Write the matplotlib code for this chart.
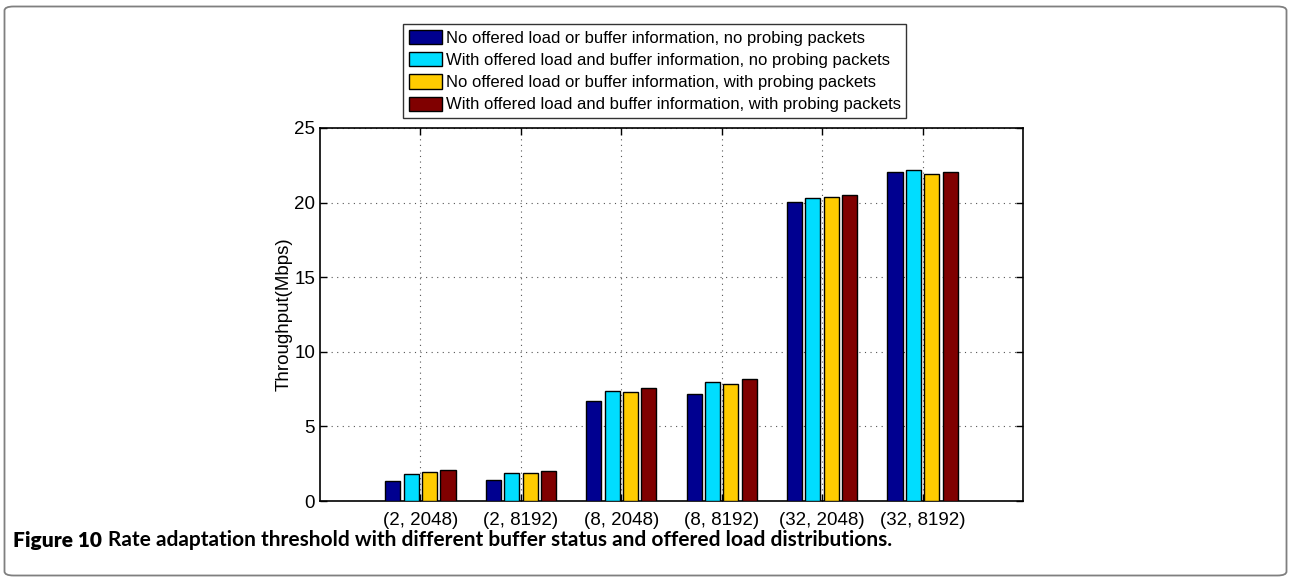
import numpy as np
import matplotlib
matplotlib.use("Agg")
import matplotlib.pyplot as plt
from matplotlib.patches import FancyBboxPatch

plt.rcParams['font.family'] = ['Liberation Sans', 'DejaVu Sans']

# data
groups = ['(2, 2048)', '(2, 8192)', '(8, 2048)', '(8, 8192)', '(32, 2048)', '(32, 8192)']
no_info_no_probe = [1.36, 1.38, 6.70, 7.17, 20.05, 22.08]
info_no_probe = [1.80, 1.85, 7.35, 8.00, 20.30, 22.19]
no_info_probe = [1.92, 1.90, 7.29, 7.84, 20.37, 21.94]
info_probe = [2.05, 2.03, 7.60, 8.20, 20.50, 22.06]

series_labels = [
    'No offered load or buffer information, no probing packets',
    'With offered load and buffer information, no probing packets',
    'No offered load or buffer information, with probing packets',
    'With offered load and buffer information, with probing packets',
]
colors = ['#000090', '#00DDFF', '#FFCC00', '#800000']

W, H = 1291, 578
fig = plt.figure(figsize=(W / 100, H / 100), dpi=100)

# rounded frame around the whole figure
frame = FancyBboxPatch((4.5 / W, 2.5 / H), 1282 / W, 569 / H,
                       boxstyle="round,pad=0,rounding_size=0.007",
                       transform=fig.transFigure, fill=False,
                       edgecolor='#7f7f7f', linewidth=1.3)
fig.patches.append(frame)

ax = fig.add_axes([320 / W, 1 - 501 / H, 703 / W, 373 / H])

x = np.arange(1, len(groups) + 1)
all_series = [no_info_no_probe, info_no_probe, no_info_probe, info_probe]
step = 0.183
for i, (vals, c, lab) in enumerate(zip(all_series, colors, series_labels)):
    ax.bar(x + (i - 1.5) * step, vals, width=0.15, color=c,
           edgecolor='black', linewidth=1.0, label=lab, zorder=3)

ax.set_xlim(0, 7)
ax.set_ylim(0, 25)
ax.set_yticks([0, 5, 10, 15, 20, 25])
ax.set_xticks(x)
ax.set_xticklabels(groups)
ax.tick_params(direction='in', top=True, right=True, length=5,
               labelsize=13.5, width=1)
ax.tick_params(axis='x', pad=8)
ax.grid(True, linestyle=(0, (1, 4)), color='#555555', linewidth=0.8, zorder=0)
for s in ax.spines.values():
    s.set_linewidth(1.2)
ax.set_ylabel('Throughput(Mbps)', fontsize=13.5, labelpad=1)

leg = fig.legend(loc='upper left', bbox_to_anchor=(403 / W, 1 - 24 / H),
                 fontsize=12, frameon=True, fancybox=False,
                 edgecolor='black', handlelength=2.0, handleheight=0.95,
                 handletextpad=0.2, labelspacing=0.38, borderpad=0.35,
                 borderaxespad=0)
leg.get_frame().set_linewidth(1.0)

# caption: bold figure number followed by the title text
cap_y = 1 - 540 / H
t1 = fig.text(13 / W, cap_y, 'Figure 10', fontsize=15, fontweight='heavy',
              family='Lato', va='center', ha='left')
fig.canvas.draw()
bb = t1.get_window_extent()
fig.text((bb.x1 + 6) / W, cap_y,
         'Rate adaptation threshold with different buffer status and offered load distributions.',
         fontsize=15, fontweight='bold', family='Lato', va='center', ha='left')

fig.savefig('out.png', dpi=100)
